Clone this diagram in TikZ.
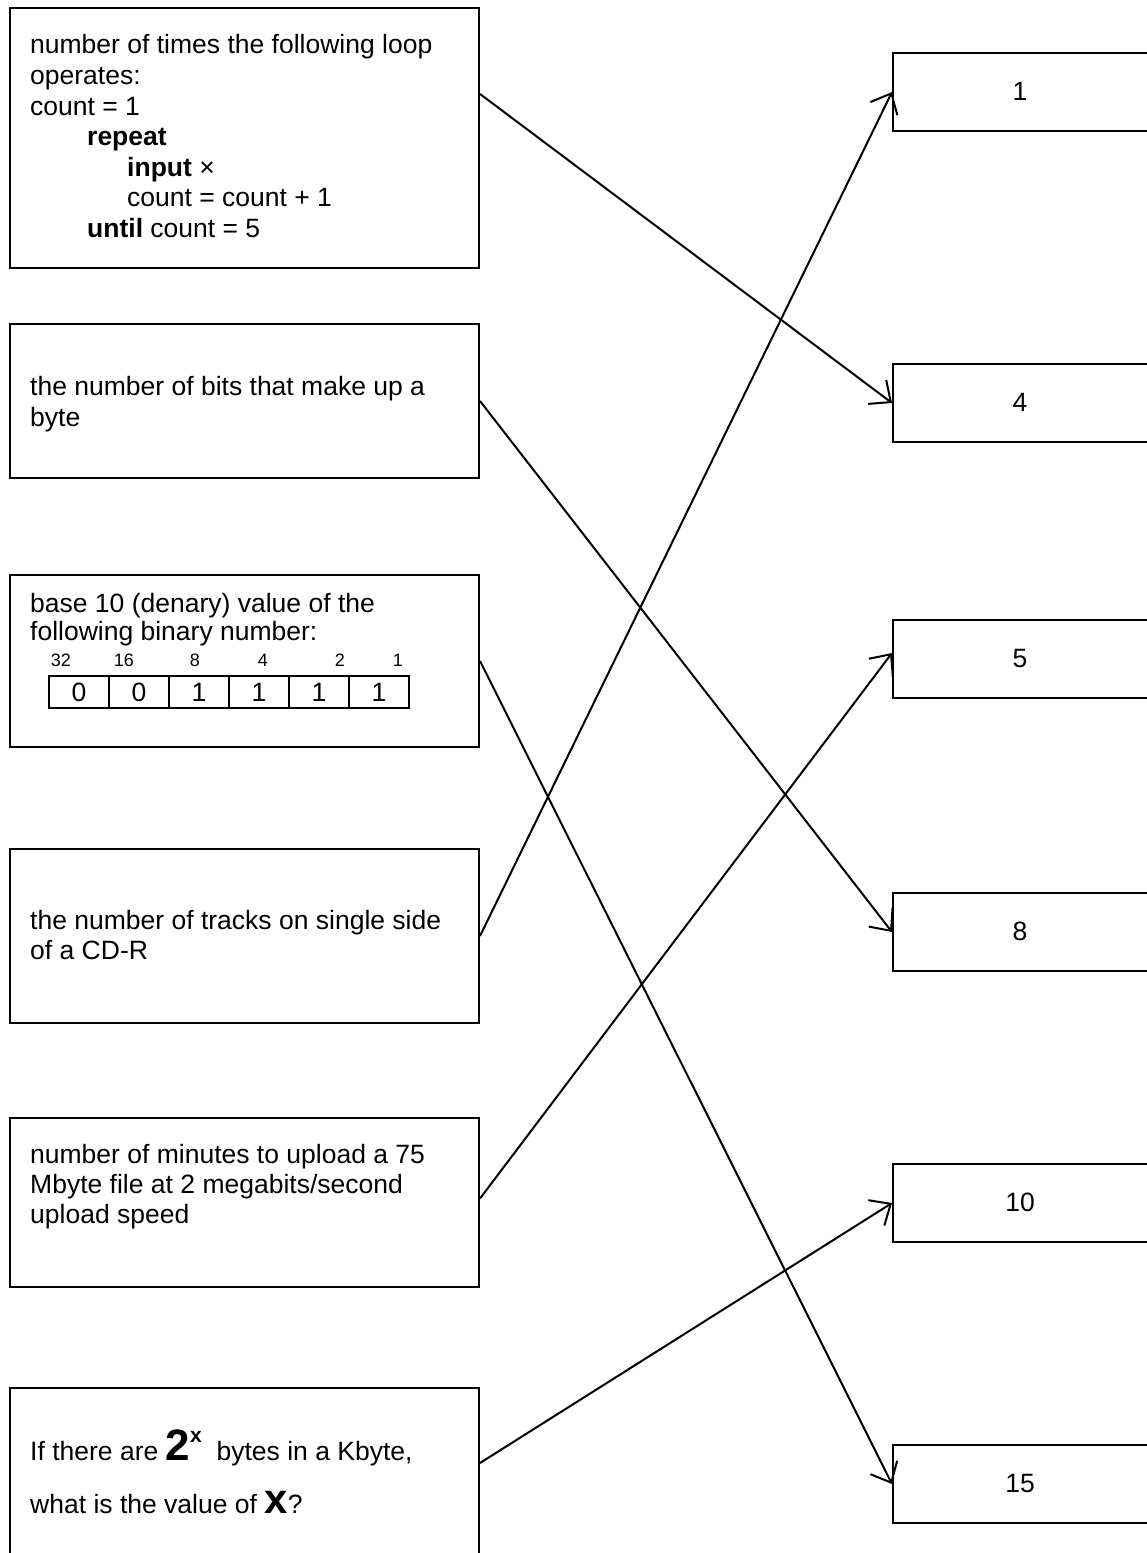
\documentclass[tikz,border=0pt]{standalone}
\usepackage{fontspec}
\setmainfont{Liberation Sans}
\usetikzlibrary{arrows.meta}
\tikzset{
  qbox/.style={draw, line width=2pt, rectangle, minimum width=469pt, inner sep=0pt, anchor=north west},
  abox/.style={draw, line width=2pt, rectangle, minimum width=256pt, minimum height=78pt, inner sep=0pt, anchor=north west},
  txt/.style={anchor=base west, inner sep=0pt, font=\fontsize{26.5}{30}\selectfont},
  small/.style={anchor=base, inner sep=0pt, font=\fontsize{18}{20}\selectfont},
  cell/.style={draw, line width=1.8pt, minimum width=60pt, minimum height=32pt, inner sep=0pt, anchor=north west, font=\fontsize{26.5}{30}\selectfont},
  link/.style={line width=2pt, -{Straight Barb[length=17pt,width=30pt,line width=2pt]}}
}
\begin{document}
\begin{tikzpicture}[x=1pt,y=-1pt]
\useasboundingbox (0,0) rectangle (1147,1553);
% left boxes
\node[qbox, minimum height=260pt] (q1) at (9,7) {};
\node[qbox, minimum height=154pt] (q2) at (9,323) {};
\node[qbox, minimum height=172pt] (q3) at (9,574) {};
\node[qbox, minimum height=174pt] (q4) at (9,848) {};
\node[qbox, minimum height=169pt] (q5) at (9,1117) {};
\node[qbox, minimum height=200pt] (q6) at (9,1387) {};
% texts box 1
\node[txt] (t11) at (30,53) {number of times the following loop};
\node[txt] (t12) at (30,84) {operates:};
\node[txt] (t13) at (30,115) {count = 1};
\node[txt] (t14) at (87,145) {\textbf{repeat}};
\node[txt] (t15) at (127,176) {\textbf{input} ×};
\node[txt] (t16) at (127,206) {count = count + 1};
\node[txt] (t17) at (87,237) {\textbf{until} count = 5};
% box 2
\node[txt] (t21) at (30,395) {the number of bits that make up a};
\node[txt] (t22) at (30,426) {byte};
% box 3
\node[txt] (t31) at (30,612) {base 10 (denary) value of the};
\node[txt] (t32) at (30,640) {following binary number:};
\node[small] (w1) at (61,666) {32};
\node[small] (w2) at (124,666) {16};
\node[small] (w3) at (195,666) {8};
\node[small] (w4) at (263,666) {4};
\node[small] (w5) at (340,666) {2};
\node[small] (w6) at (398,666) {1};
\node[cell] (c1) at (48,675) {0};
\node[cell] (c2) at (108,675) {0};
\node[cell] (c3) at (168,675) {1};
\node[cell] (c4) at (228,675) {1};
\node[cell] (c5) at (288,675) {1};
\node[cell] (c6) at (348,675) {1};
% box 4
\node[txt] (t41) at (30,929) {the number of tracks on single side};
\node[txt] (t42) at (30,959) {of a CD-R};
% box 5
\node[txt] (t51) at (30,1163) {number of minutes to upload a 75};
\node[txt] (t52) at (30,1193) {Mbyte file at 2 megabits/second};
\node[txt] (t53) at (30,1223) {upload speed};
% box 6
\node[txt] (t61) at (30,1460) {If there are {\fontsize{44}{44}\selectfont\textbf{2}}\raisebox{18pt}{\fontsize{21}{21}\selectfont\textbf{x}}\ \ bytes in a Kbyte,};
\node[txt] (t62) at (30,1513) {what is the value of {\fontsize{42}{42}\selectfont\textbf{x}}?};
% right boxes
\node[abox] (a1) at (892,52) {};
\node[abox] (a4) at (892,363) {};
\node[abox] (a5) at (892,619) {};
\node[abox] (a8) at (892,892) {};
\node[abox] (a10) at (892,1163) {};
\node[abox] (a15) at (892,1444) {};
\node[txt, anchor=center] (l1) at (1020,91) {1};
\node[txt, anchor=center] (l4) at (1020,402) {4};
\node[txt, anchor=center] (l5) at (1020,659) {5};
\node[txt, anchor=center] (l8) at (1020,931) {8};
\node[txt, anchor=center] (l10) at (1020,1202) {10};
\node[txt, anchor=center] (l15) at (1020,1483) {15};
% connectors
\draw[link] ([yshift=44pt]q1.east) -- (a4.west);
\draw[link] (q2.east) -- (a8.west);
\draw[link] (q3.east) -- (a15.west);
\draw[link] (q4.east) -- (a1.west);
\draw[link] ([yshift=4pt]q5.east) -- ([yshift=6pt]a5.west);
\draw[link] ([yshift=25pt]q6.east) -- (a10.west);
\end{tikzpicture}
\end{document}
